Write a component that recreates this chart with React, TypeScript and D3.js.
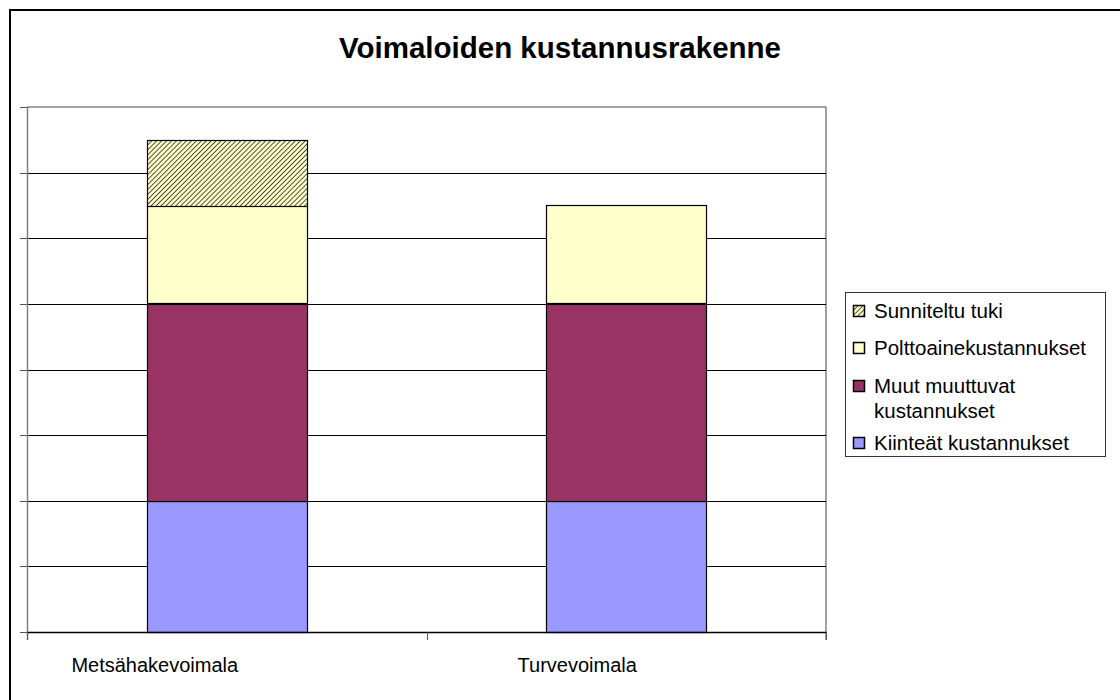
import React from 'react';
import * as d3 from 'd3';

const categories = ['Metsähakevoimala', 'Turvevoimala'];
const kiinteat = [2, 2];
const muut = [3, 3];
const polttoaine = [1.5, 1.5];
const tuki = [1, 0];
const yTicks = [0, 1, 2, 3, 4, 5, 6, 7, 8];

const seriesFills = ['#9999FF', '#993366', '#FFFFCC', 'url(#hatch)'];
const legendLines = [['Sunniteltu tuki'], ['Polttoainekustannukset'], ['Muut muuttuvat', 'kustannukset'], ['Kiinteät kustannukset']];
const legendOrder = [3, 2, 1, 0];
// label shift from band centre, as the original places them
const labelShift = [-72, -49];

const font = '"Liberation Sans", Arial, sans-serif';

const App: React.FC = () => {
  const W = 1120, H = 700;
  const plot = { left: 27, right: 826, top: 107, bottom: 632 };

  const x = d3.scaleBand<string>().domain(categories).range([plot.left, plot.right]).padding(0);
  const y = d3.scaleLinear().domain([0, 8]).range([plot.bottom, plot.top]);

  const table = categories.map((c, i) => ({
    cat: c,
    k: kiinteat[i], m: muut[i], p: polttoaine[i], t: tuki[i],
  }));
  const stack = d3.stack<any>().keys(['k', 'm', 'p', 't'])(table);

  const bw = x.bandwidth() * 0.4;
  const barX = (c: string) => (x(c) as number) + x.bandwidth() * 0.3;

  const legendRowY = [318, 355, 393, 450];

  return (
    <svg width={W} height={H} style={{ position: 'absolute', left: 0, top: 0, background: '#fff' }}>
      <defs>
        <pattern id="hatch" width="3.5" height="3.5" patternUnits="userSpaceOnUse" patternTransform="rotate(45)">
          <rect width="3.5" height="3.5" fill="#FFFFCC" />
          <line x1="0" y1="0" x2="0" y2="3.5" stroke="#2a2a1a" strokeWidth="1.6" />
        </pattern>
      </defs>
      <path d={`M10,${H}V10H${W}`} fill="none" stroke="#000" strokeWidth={2} />

      <text x={560} y={58} textAnchor="middle" fontFamily={font} fontSize={29.5} fontWeight="bold">
        Voimaloiden kustannusrakenne
      </text>

      {/* plot frame */}
      <line x1={plot.left} x2={plot.right} y1={plot.top} y2={plot.top} stroke="#808080" strokeWidth={1.5} />
      <line x1={plot.right} x2={plot.right} y1={plot.top} y2={plot.bottom + 8} stroke="#808080" strokeWidth={1.5} />

      {/* gridlines */}
      {yTicks.slice(1, -1).map(t => (
        <line key={t} x1={plot.left} x2={plot.right} y1={Math.round(y(t)) + 0.5} y2={Math.round(y(t)) + 0.5} stroke="#000" strokeWidth={1} />
      ))}

      {/* y axis */}
      <line x1={plot.left + 0.5} x2={plot.left + 0.5} y1={plot.top} y2={plot.bottom + 8} stroke="#808080" strokeWidth={1.5} />
      {yTicks.map(t => (
        <line key={t} x1={plot.left - 7} x2={plot.left} y1={Math.round(y(t)) + 0.5} y2={Math.round(y(t)) + 0.5} stroke="#555" strokeWidth={1} />
      ))}

      {/* bars */}
      {stack.map((s, si) => (
        <g key={si}>
          {s.map((d, di) => d[1] - d[0] > 0 ? (
            <rect key={di}
              x={Math.round(barX(categories[di])) + 0.5}
              y={Math.round(y(d[1])) + 0.5}
              width={Math.round(bw)}
              height={Math.round(y(d[0]) - y(d[1]))}
              fill={seriesFills[si]} stroke="#000" strokeWidth={1.2} />
          ) : null)}
        </g>
      ))}

      {/* x axis */}
      <line x1={plot.left} x2={plot.right} y1={plot.bottom + 0.5} y2={plot.bottom + 0.5} stroke="#000" strokeWidth={1.5} />
      {[...categories.map(c => x(c) as number), plot.right].map((v, i) => (
        <line key={i} x1={Math.round(v) + 0.5} x2={Math.round(v) + 0.5} y1={plot.bottom} y2={plot.bottom + 8} stroke="#555" strokeWidth={1} />
      ))}
      {categories.map((c, i) => (
        <text key={c} x={(x(c) as number) + x.bandwidth() / 2 + labelShift[i]} y={672} textAnchor="middle" fontFamily={font} fontSize={20}>
          {c}
        </text>
      ))}

      {/* legend */}
      <rect x={845.5} y={292.5} width={260} height={164} fill="#fff" stroke="#333" strokeWidth={1} />
      {legendOrder.map((si, row) => (
        <g key={si}>
          <rect x={853.5} y={legendRowY[row] - 12.5} width={11} height={11} fill={seriesFills[si]} stroke="#000" strokeWidth={1.5} />
          <text x={874} y={legendRowY[row]} fontFamily={font} fontSize={20.5}>
            {legendLines[row].map((ln, li) => (
              <tspan key={li} x={874} dy={li === 0 ? 0 : 25}>{ln}</tspan>
            ))}
          </text>
        </g>
      ))}
    </svg>
  );
};

export default App;
